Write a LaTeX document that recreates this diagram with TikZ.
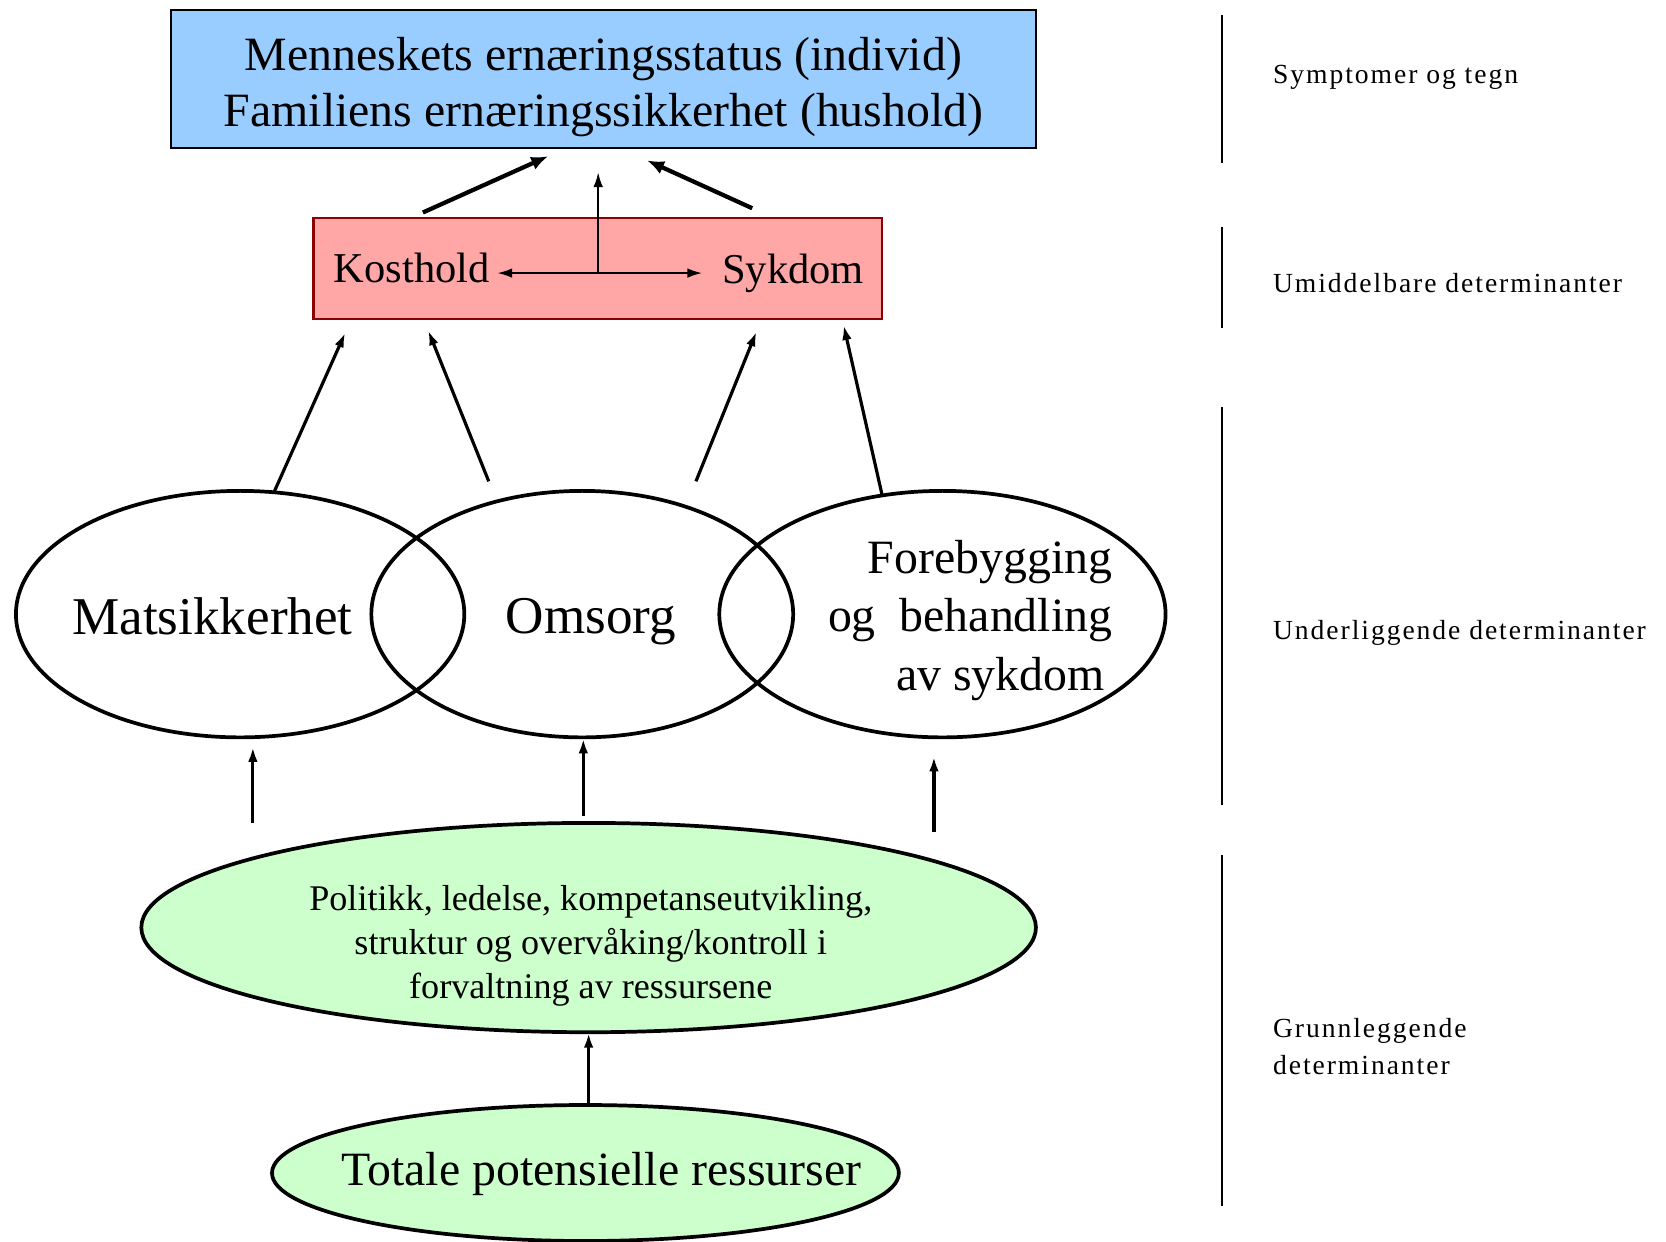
\documentclass[tikz,border=0pt]{standalone}
\usepackage{fontspec}
\setmainfont{Liberation Serif}
\newfontfamily\widefont[LetterSpace=7]{Liberation Serif}
\usetikzlibrary{shapes.geometric,arrows.meta}
\definecolor{topblue}{HTML}{99CCFF}
\definecolor{redfill}{HTML}{FFA6A6}
\definecolor{redline}{HTML}{8B0000}
\definecolor{greenfill}{HTML}{CCFFCC}
\tikzset{
  x=1pt, y=-1pt,
  boxstyle/.style={draw, rectangle, inner sep=0pt, line width=2pt},
  ellstyle/.style={draw, ellipse, inner sep=0pt, line width=3.5pt},
  thickarrow/.style={line width=4pt, -{Latex[length=16pt,width=13pt]}},
  midarrow/.style={line width=3pt, -{Latex[length=14pt,width=9pt]}},
  thinarrow/.style={line width=2pt, -{Latex[length=14pt,width=9pt]}},
  sidelabel/.style={anchor=west, inner sep=0pt, align=left, font=\widefont\fontsize{26}{35}\selectfont},
  sideline/.style={line width=2pt}
}
\begin{document}
\begin{tikzpicture}
\useasboundingbox (0,0) rectangle (1568,1168);
% top box
\node[boxstyle, fill=topblue, minimum width=814pt, minimum height=130pt] (top) at (568,74) {};
\node[inner sep=0pt, align=center, font=\fontsize{45}{53}\selectfont] (toptext) at (568,82)
  {Menneskets ernæringsstatus (individ)\\Familiens ernæringssikkerhet (hushold)};
% red box
\node[boxstyle, draw=redline, fill=redfill, minimum width=535pt, minimum height=95pt] (red) at (562.5,252.5) {};
\node[inner sep=0pt, font=\fontsize{40}{46}\selectfont] (kost) at (387.5,252) {Kosthold};
\node[inner sep=0pt, font=\fontsize{40}{46}\selectfont] (syk) at (746.5,257) {Sykdom};
% ellipses
\node[ellstyle, minimum width=422pt, minimum height=232pt] (mat) at (226,578) {};
\node[ellstyle, minimum width=397pt, minimum height=232pt] (oms) at (548,578) {};
\node[ellstyle, minimum width=420pt, minimum height=232pt] (fore) at (887,578) {};
\node[inner sep=0pt, font=\fontsize{50}{55}\selectfont] (matt) at (200,580) {Matsikkerhet};
\node[inner sep=0pt, font=\fontsize{50}{55}\selectfont] (omst) at (556,585) {Omsorg};
\node[inner sep=0pt, anchor=east, align=right, font=\fontsize{45}{55}\selectfont] (foret) at (1047,584)
  {Forebygging\\og\ \ behandling\\av sykdom\hspace*{7pt}};
% green ellipses
\node[ellstyle, fill=greenfill, minimum width=842pt, minimum height=197pt] (pol) at (554,873) {};
\node[inner sep=0pt, align=center, font=\fontsize{34}{41.5}\selectfont] (polt) at (556,890)
  {Politikk, ledelse, kompetanseutvikling,\\struktur og overvåking/kontroll i\\forvaltning av ressursene};
\node[ellstyle, fill=greenfill, minimum width=590pt, minimum height=128pt] (tot) at (551,1104) {};
\node[inner sep=0pt, font=\fontsize{45}{50}\selectfont] (tott) at (566,1105) {Totale potensielle ressurser};
% arrow coordinates
\coordinate (a1s) at (398,200); \coordinate (a1e) at (516,147);
\coordinate (a2s) at (708,196); \coordinate (a2e) at (609,151);
\coordinate (a3s) at (563,257); \coordinate (a3e) at (563,162);
\coordinate (a4l) at (468,257); \coordinate (a4r) at (661,257);
\coordinate (b1s) at (258,463); \coordinate (b1e) at (325,313);
\coordinate (b2s) at (460,453); \coordinate (b2e) at (403,311);
\coordinate (b3s) at (655,453); \coordinate (b3e) at (712,312);
\coordinate (b4s) at (830,465); \coordinate (b4e) at (794,306);
\coordinate (c1s) at (238,775); \coordinate (c1e) at (238,703);
\coordinate (c2s) at (549,768); \coordinate (c2e) at (549,695);
\coordinate (c3s) at (879,783); \coordinate (c3e) at (879,712);
\coordinate (d1s) at (554,1040); \coordinate (d1e) at (554,972);
\draw[thickarrow] (a1s) -- (a1e);
\draw[thickarrow] (a2s) -- (a2e);
\draw[thinarrow] (a3s) -- (a3e);
\draw[thinarrow, {Latex[length=14pt,width=9pt]}-{Latex[length=14pt,width=9pt]}] (a4l) -- (a4r);
\draw[midarrow] (b1s) -- (b1e);
\draw[midarrow] (b2s) -- (b2e);
\draw[midarrow] (b3s) -- (b3e);
\draw[midarrow] (b4s) -- (b4e);
\draw[midarrow] (c1s) -- (c1e);
\draw[midarrow] (c2s) -- (c2e);
\draw[midarrow] (c3s) -- (c3e);
\draw[midarrow] (d1s) -- (d1e);
% side lines
\coordinate (s1a) at (1150,14); \coordinate (s1b) at (1150,153);
\coordinate (s2a) at (1150,214); \coordinate (s2b) at (1150,309);
\coordinate (s3a) at (1150,383); \coordinate (s3b) at (1150,758);
\coordinate (s4a) at (1150,805); \coordinate (s4b) at (1150,1135);
\draw[sideline] (s1a) -- (s1b);
\draw[sideline] (s2a) -- (s2b);
\draw[sideline] (s3a) -- (s3b);
\draw[sideline] (s4a) -- (s4b);
% side labels
\node[sidelabel] (l1) at (1198,73) {Symptomer og tegn};
\node[sidelabel] (l2) at (1198,266) {Umiddelbare determinanter};
\node[sidelabel] (l3) at (1198,596) {Underliggende determinanter};
\node[sidelabel] (l4) at (1198,985) {Grunnleggende\\determinanter};
\end{tikzpicture}
\end{document}
